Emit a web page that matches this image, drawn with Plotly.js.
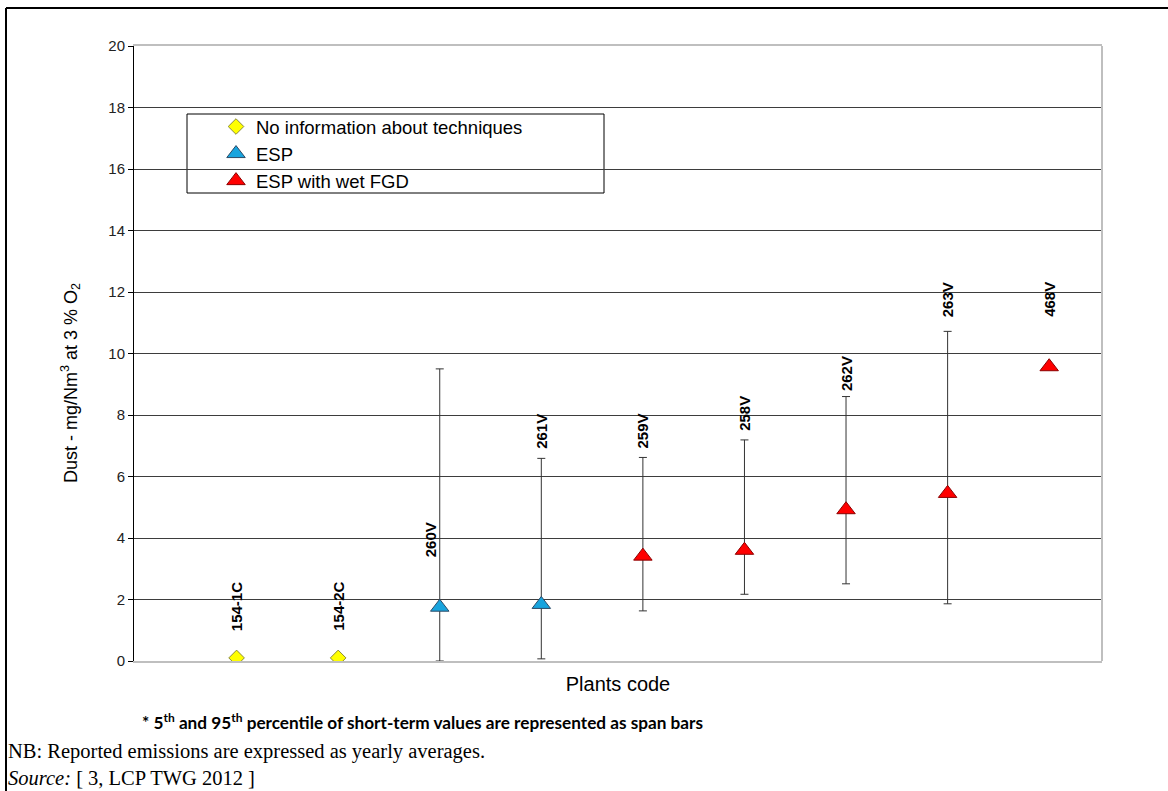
<!DOCTYPE html>
<html>
<head>
<meta charset="utf-8">
<script src="https://cdn.plot.ly/plotly-3.0.1.min.js"></script>
<style>html,body{margin:0;padding:0;background:#fff;}#chart{width:1168px;height:791px;}</style>
</head>
<body>
<div id="chart"></div>
<script>
// ---- data ----
const plants = ["154-1C", "154-2C", "260V", "261V", "259V", "258V", "262V", "263V", "468V"];
const noInfoPlants = ["154-1C", "154-2C"];
const noInfoValues = [0.1, 0.1];
const espPlants = ["260V", "261V"];
const espValues = [1.75, 1.84];
const espP95 = [9.5, 6.59];
const espP5 = [0.0, 0.07];
const fgdPlants = ["259V", "258V", "262V", "263V", "468V"];
const fgdValues = [3.41, 3.6, 4.92, 5.45, 9.57];
const fgdP95 = [6.62, 7.19, 8.6, 10.72, null];
const fgdP5 = [1.63, 2.17, 2.51, 1.86, null];
const labelPos = [0.94, 0.94, 3.35, 6.86, 6.89, 7.45, 8.73, 11.15, 11.15];
const yTicks = [0, 2, 4, 6, 8, 10, 12, 14, 16, 18, 20];

// ---- layout helpers (pixel -> paper) ----
const M = {l: 134, r: 66, t: 46, b: 130};
const W = 1168, H = 791;
const PW = W - M.l - M.r, PH = H - M.t - M.b;
const px = X => (X - M.l) / PW;
const py = Y => (H - M.b - Y) / PH;
const labelShift = {"260V": -9};

function upper(v, hi) { return v.map((d, i) => hi[i] == null ? null : hi[i] - d); }
function lower(v, lo) { return v.map((d, i) => lo[i] == null ? null : d - lo[i]); }

const errStyle = {color: '#333333', thickness: 1, width: 4};

const traces = [
  {
    type: 'scatter', mode: 'markers', name: 'No information about techniques',
    x: noInfoPlants, y: noInfoValues,
    marker: {symbol: 'diamond', size: 12, color: '#FFFF00', line: {color: '#8a8a3a', width: 1}}
  },
  {
    type: 'scatter', mode: 'markers', name: 'ESP',
    x: espPlants, y: espValues,
    error_y: Object.assign({type: 'data', symmetric: false, array: upper(espValues, espP95), arrayminus: lower(espValues, espP5)}, errStyle),
    marker: {symbol: 'triangle-up', size: 16, color: '#18A4DE', line: {color: '#2B4A66', width: 1}}
  },
  {
    type: 'scatter', mode: 'markers', name: 'ESP with wet FGD',
    x: fgdPlants, y: fgdValues,
    error_y: Object.assign({type: 'data', symmetric: false, array: upper(fgdValues, fgdP95), arrayminus: lower(fgdValues, fgdP5)}, errStyle),
    marker: {symbol: 'triangle-up', size: 16, color: '#FF0000', line: {color: '#8B0000', width: 1}}
  }
];

const annotations = plants.map((p, i) => ({
  x: p, y: labelPos[i], xref: 'x', yref: 'y',
  text: p, showarrow: false, textangle: -90,
  xanchor: 'center', yanchor: 'bottom', borderpad: 0,
  xshift: labelShift[p] || 0,
  font: {family: 'Liberation Sans, Arial, sans-serif', size: 15, color: '#000', weight: 'bold'}
}));

annotations.push(
  {
    xref: 'paper', yref: 'paper', x: px(70), y: py(383), showarrow: false, textangle: -90,
    text: 'Dust - mg/Nm<sup>3</sup> at 3 % O<sub>2</sub>',
    font: {family: 'Liberation Sans, Arial, sans-serif', size: 18, color: '#000'},
    xanchor: 'center', yanchor: 'middle'
  },
  {
    xref: 'paper', yref: 'paper', x: px(422), y: py(721), showarrow: false,
    text: '* 5<sup>th</sup> and 95<sup>th</sup> percentile of short-term values are represented as span bars',
    font: {family: 'Lato, Carlito, sans-serif', size: 17.2, color: '#000', weight: 'bold'},
    xanchor: 'center', yanchor: 'middle'
  },
  {
    xref: 'paper', yref: 'paper', x: px(7), y: py(790), showarrow: false,
    text: 'NB: Reported emissions are expressed as yearly averages.<br><i>Source:</i> [ 3, LCP TWG 2012 ]',
    align: 'left', borderpad: 0,
    font: {family: 'Liberation Serif, Times New Roman, serif', size: 20.5, color: '#000'},
    xanchor: 'left', yanchor: 'bottom'
  }
);

const shapes = [
  // outer frame (top & left)
  {type: 'line', xref: 'paper', yref: 'paper', x0: px(6), x1: px(1168), y0: py(8), y1: py(8), line: {color: '#000', width: 2}},
  {type: 'line', xref: 'paper', yref: 'paper', x0: px(6), x1: px(6), y0: py(8), y1: py(791), line: {color: '#000', width: 2}},
  // plot area right border
  {type: 'line', xref: 'paper', yref: 'paper', x0: 1, x1: 1, y0: 0, y1: 1, line: {color: '#BFBFBF', width: 2}},
  // legend box
  {type: 'rect', xref: 'paper', yref: 'paper', x0: px(187), x1: px(604), y0: py(193), y1: py(114),
   line: {color: '#000', width: 1}, fillcolor: '#fff', layer: 'below'}
];

const layout = {
  width: W, height: H,
  margin: M,
  paper_bgcolor: '#fff', plot_bgcolor: '#fff',
  font: {family: 'Liberation Sans, Arial, sans-serif', color: '#000'},
  showlegend: true,
  legend: {
    x: px(216), y: py(108), xanchor: 'left', yanchor: 'top',
    bgcolor: 'rgba(0,0,0,0)', borderwidth: 0,
    font: {family: 'Liberation Sans, Arial, sans-serif', size: 18.5, color: '#000'},
    tracegroupgap: 0, itemclick: false
  },
  xaxis: {
    type: 'category', categoryorder: 'array', categoryarray: plants,
    range: [-1.01, 8.52],
    showticklabels: false, ticks: '', showgrid: false, zeroline: false,
    showline: true, linecolor: '#BFBFBF', linewidth: 2, mirror: true,
    title: {text: 'Plants code', font: {size: 20, color: '#000'}, standoff: 15}
  },
  yaxis: {
    range: [0, 20], tickvals: yTicks, ticktext: yTicks.map(String),
    ticks: 'outside', ticklen: 5, tickcolor: '#000',
    tickfont: {size: 15, color: '#222'},
    showgrid: true, gridcolor: '#3d3d3d', gridwidth: 1,
    zeroline: false, showline: true, linecolor: '#000', linewidth: 1
  },
  shapes: shapes,
  annotations: annotations
};

Plotly.newPlot('chart', traces, layout, {displayModeBar: false, staticPlot: true});
</script>
</body>
</html>
